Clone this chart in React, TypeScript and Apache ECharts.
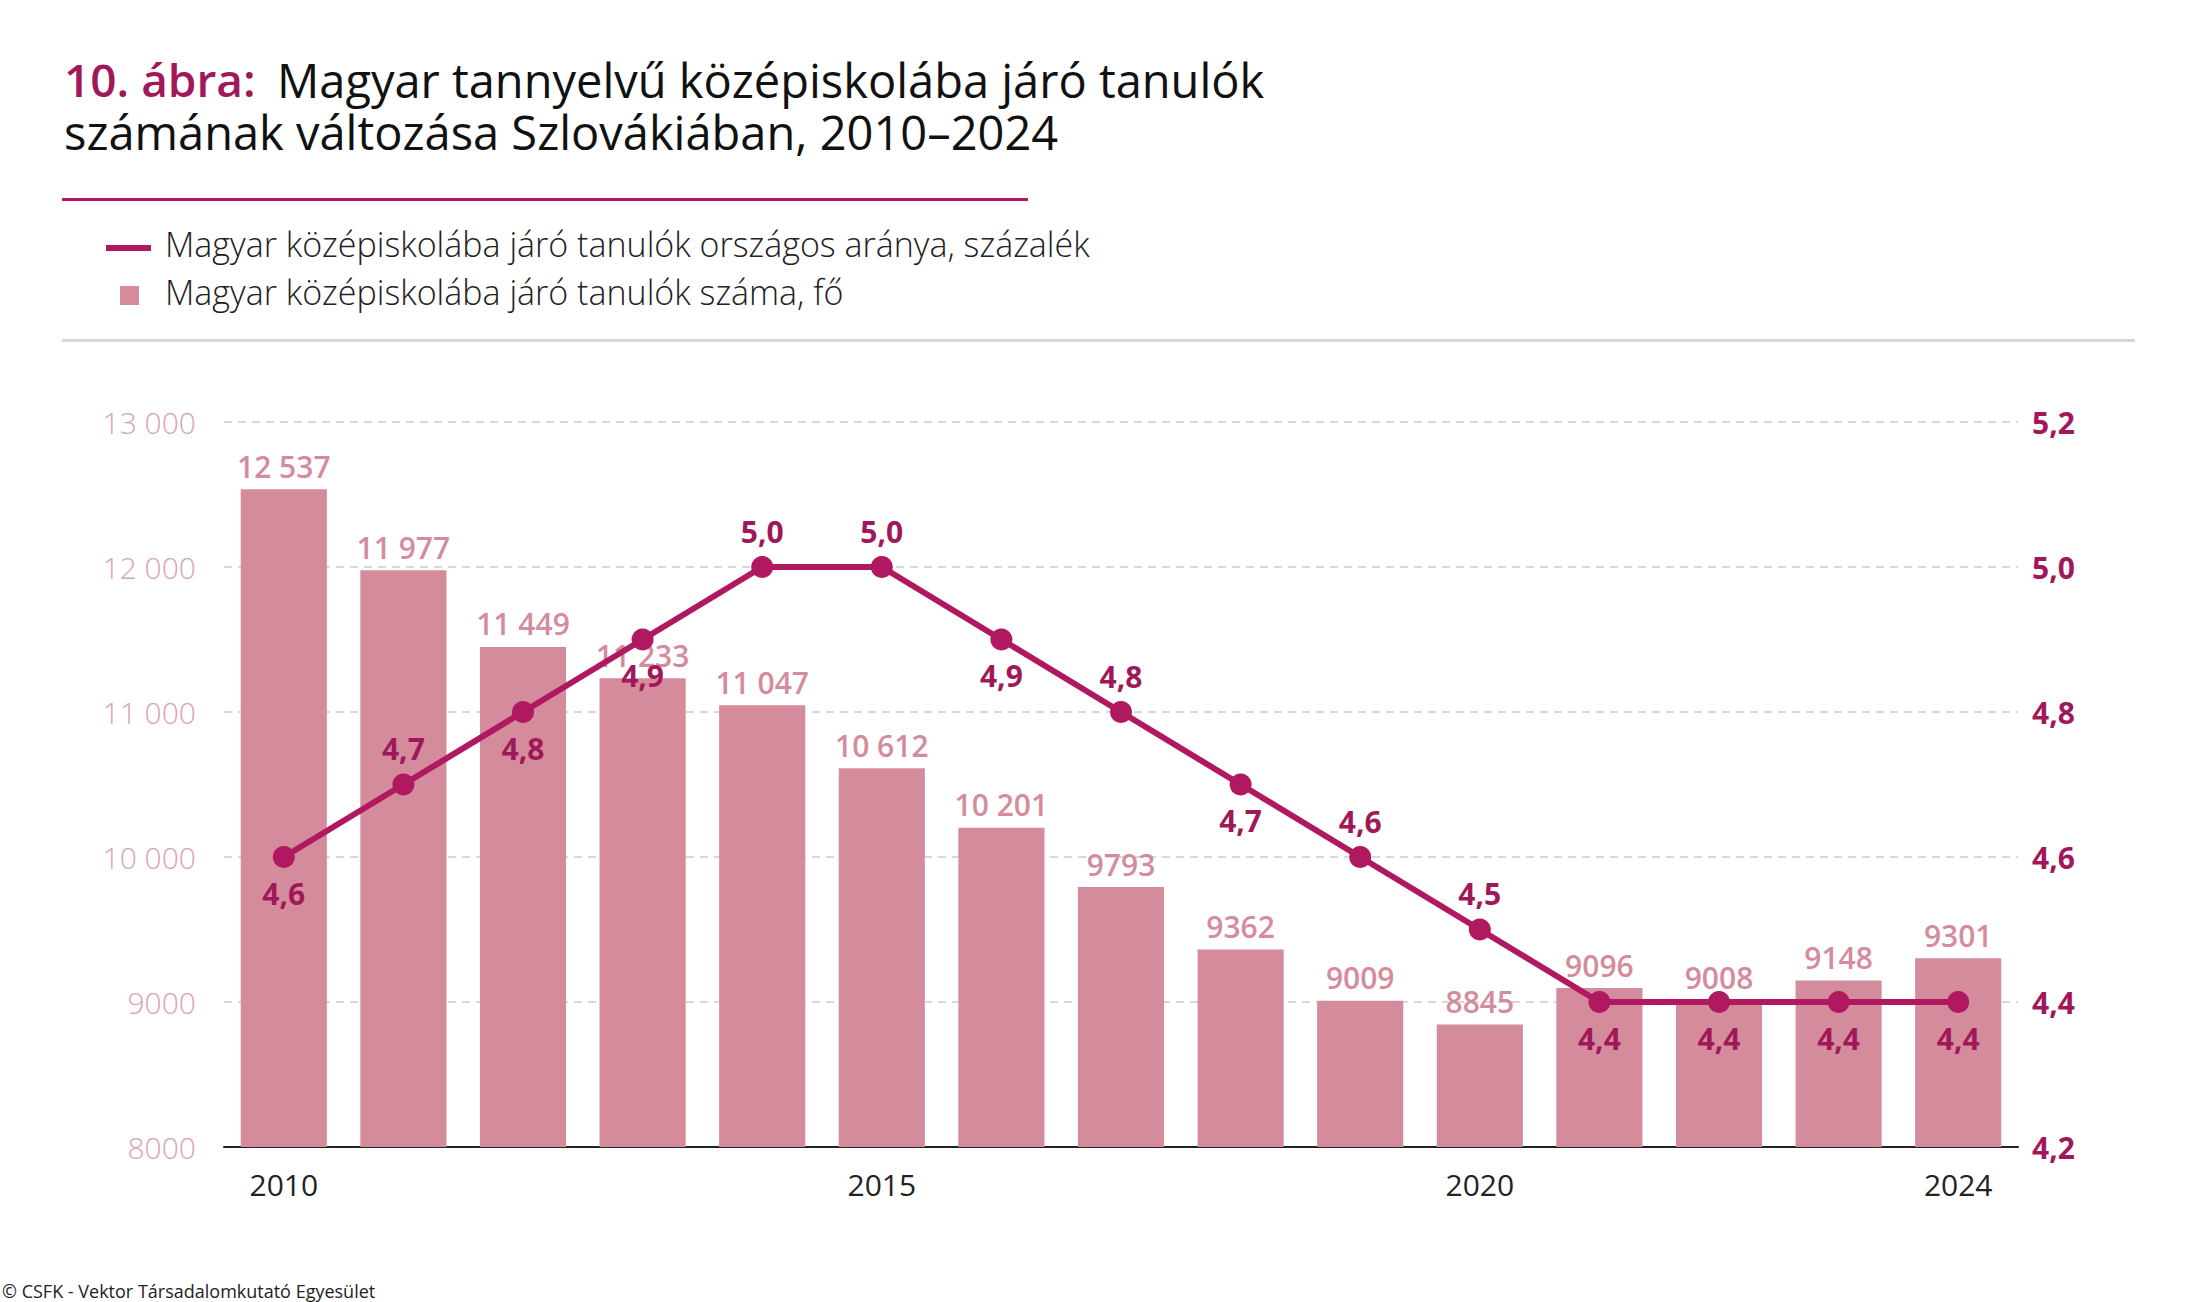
import React, { useEffect, useRef } from "react";
import * as echarts from "echarts";

const years = ["2010","2011","2012","2013","2014","2015","2016","2017","2018","2019","2020","2021","2022","2023","2024"];
const students = [12537, 11977, 11449, 11233, 11047, 10612, 10201, 9793, 9362, 9009, 8845, 9096, 9008, 9148, 9301];
const shares = [4.6, 4.7, 4.8, 4.9, 5.0, 5.0, 4.9, 4.8, 4.7, 4.6, 4.5, 4.4, 4.4, 4.4, 4.4];
const sharePos = ["bottom","top","bottom","bottom","top","top","bottom","top","bottom","top","top","bottom","bottom","bottom","bottom"];
const shownYears = ["2010", "2015", "2020", "2024"];

const fmt = (n: number) => (n >= 10000 ? String(n).replace(/(\d+)(\d{3})$/, "$1 $2") : String(n));
const FONT = "'Open Sans', 'Noto Sans', sans-serif";

export default function App() {
  const ref = useRef<HTMLDivElement>(null);
  useEffect(() => {
    document.body.style.margin = "0";
    const chart = echarts.init(ref.current!, null, { renderer: "svg" });
    chart.setOption({
      animation: false,
      backgroundColor: "#fff",
      textStyle: { fontFamily: FONT },
      graphic: [
        { type: "text", left: 64, top: 56, style: { text: "10. ábra:", fill: "#a0185a", fontSize: 46, fontWeight: 600, fontFamily: FONT } },
        { type: "text", left: 277, top: 56, style: { text: "Magyar tannyelvű középiskolába járó tanulók", fill: "#111", fontSize: 47, fontWeight: 500, fontFamily: FONT } },
        { type: "text", left: 64, top: 108, style: { text: "számának változása Szlovákiában, 2010–2024", fill: "#111", fontSize: 47, fontWeight: 500, fontFamily: FONT } },
        { type: "rect", shape: { x: 62, y: 198, width: 966, height: 3 }, style: { fill: "#b0195f" } },
        { type: "rect", shape: { x: 106, y: 245, width: 45, height: 6 }, style: { fill: "#b0195f" } },
        { type: "text", left: 165, top: 227, style: { text: "Magyar középiskolába járó tanulók országos aránya, százalék", fill: "#222", fontSize: 34, fontWeight: 300, fontFamily: FONT } },
        { type: "rect", shape: { x: 120, y: 286, width: 19, height: 19 }, style: { fill: "#d48c9c" } },
        { type: "text", left: 165, top: 275, style: { text: "Magyar középiskolába járó tanulók száma, fő", fill: "#222", fontSize: 34, fontWeight: 300, fontFamily: FONT } },
        { type: "rect", shape: { x: 62, y: 339, width: 2073, height: 3 }, style: { fill: "#d6d6d6" } },
        { type: "text", left: 2, top: 1282, style: { text: "© CSFK - Vektor Társadalomkutató Egyesület", fill: "#222", fontSize: 18, fontFamily: FONT } },
      ],
      grid: { left: 224, right: 168, top: 422, bottom: 155 },
      xAxis: {
        type: "category",
        data: years,
        axisTick: { show: false },
        axisLine: { lineStyle: { color: "#222", width: 2 } },
        axisLabel: {
          interval: (i: number, v: string) => shownYears.includes(v),
          color: "#222", fontSize: 30, margin: 22, fontFamily: FONT,
        },
      },
      yAxis: [
        {
          type: "value", min: 8000, max: 13000, interval: 1000,
          axisLine: { show: false }, axisTick: { show: false },
          splitLine: { lineStyle: { color: "#ccc", type: [8, 6], width: 1.5 } },
          axisLabel: { formatter: (v: number) => fmt(v), color: "#d9a3b3", fontSize: 30, fontWeight: 300, margin: 28, fontFamily: FONT },
        },
        {
          type: "value", min: 4.2, max: 5.2, interval: 0.2,
          axisLine: { show: false }, axisTick: { show: false }, splitLine: { show: false },
          axisLabel: { formatter: (v: number) => v.toFixed(1).replace(".", ","), color: "#a0185a", fontWeight: 700, fontSize: 30, margin: 14, fontFamily: FONT },
        },
      ],
      series: [
        {
          type: "bar", data: students, barCategoryGap: "28%",
          itemStyle: { color: "#d48c9c" },
          label: { show: true, position: "top", formatter: (p: any) => fmt(p.value), color: "#d48c9c", fontWeight: 600, fontSize: 30, distance: 8, fontFamily: FONT },
        },
        {
          type: "line", yAxisIndex: 1,
          data: shares.map((v, i) => ({ value: v, label: { position: sharePos[i] } })),
          lineStyle: { color: "#b0195f", width: 6 },
          itemStyle: { color: "#b0195f" },
          symbol: "circle", symbolSize: 22,
          label: { show: true, formatter: (p: any) => p.value.toFixed(1).replace(".", ","), color: "#a0185a", fontWeight: 700, fontSize: 30, distance: 10, fontFamily: FONT },
        },
      ],
    });
    return () => chart.dispose();
  }, []);
  return <div ref={ref} style={{ width: 2186, height: 1302 }} />;
}
